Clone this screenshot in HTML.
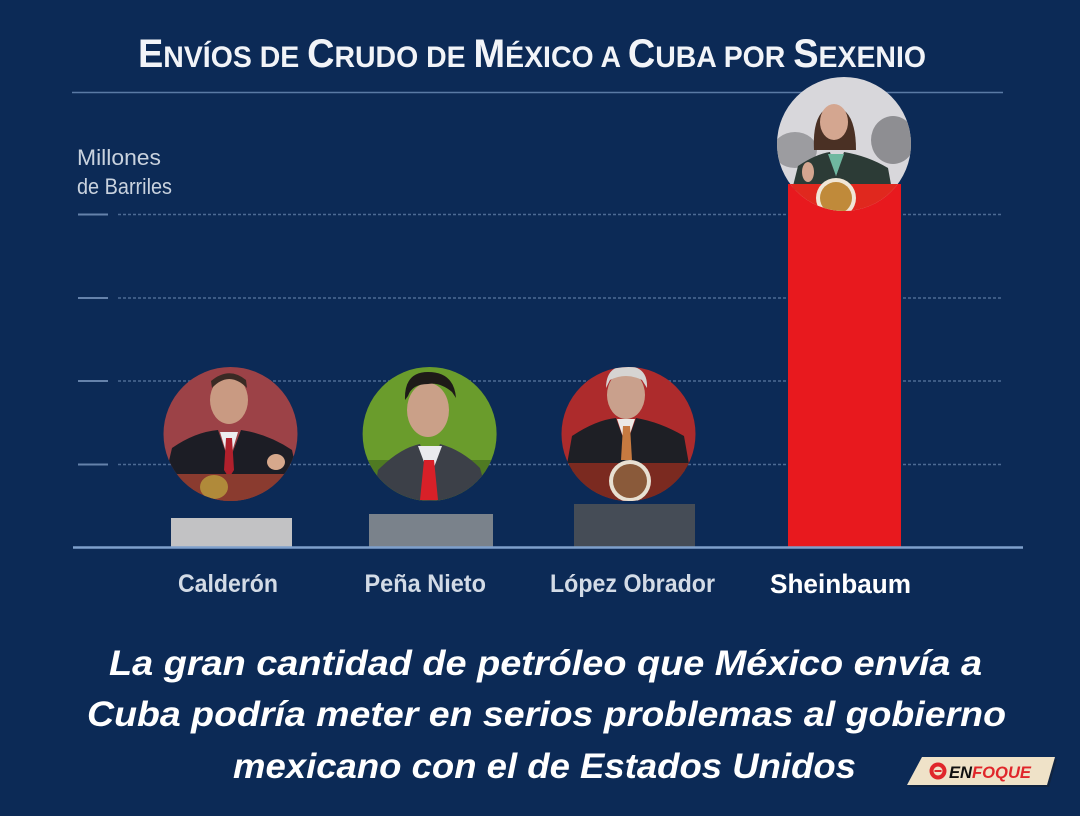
<!DOCTYPE html>
<html><head><meta charset="utf-8"><style>
html,body{margin:0;padding:0;background:#0c2a56;}
svg{display:block;}
</style></head><body>
<svg width="1080" height="816" viewBox="0 0 1080 816" xmlns="http://www.w3.org/2000/svg" font-family="'Liberation Sans', sans-serif">
<defs>
<clipPath id="c1"><circle cx="230.5" cy="434" r="67"/></clipPath>
<clipPath id="c2"><circle cx="429.6" cy="434" r="67"/></clipPath>
<clipPath id="c3"><circle cx="628.5" cy="434" r="67"/></clipPath>
<clipPath id="c4"><circle cx="844" cy="144" r="67"/></clipPath>
</defs>
<rect width="1080" height="816" fill="#0c2a56"/>

<!-- Title -->
<text x="138" y="67" textLength="788" lengthAdjust="spacingAndGlyphs" fill="#f2f4f8" font-weight="bold" font-size="40"><tspan>E</tspan><tspan font-size="30">NVÍOS DE </tspan><tspan>C</tspan><tspan font-size="30">RUDO DE </tspan><tspan>M</tspan><tspan font-size="30">ÉXICO A </tspan><tspan>C</tspan><tspan font-size="30">UBA POR </tspan><tspan>S</tspan><tspan font-size="30">EXENIO</tspan></text>
<line x1="72" y1="92.5" x2="1003" y2="92.5" stroke="#5a7aa5" stroke-width="1.5"/>

<!-- Axis label -->
<text x="77" y="165" textLength="84" lengthAdjust="spacingAndGlyphs" fill="#c9d2de" font-size="22">Millones</text>
<text x="77" y="194" textLength="95" lengthAdjust="spacingAndGlyphs" fill="#c9d2de" font-size="22">de Barriles</text>

<!-- Gridlines -->
<g stroke="#6582ab" stroke-width="2">
<line x1="78" y1="214.5" x2="108" y2="214.5"/>
<line x1="78" y1="298" x2="108" y2="298"/>
<line x1="78" y1="381" x2="108" y2="381"/>
<line x1="78" y1="464.5" x2="108" y2="464.5"/>
</g>
<g stroke="#4d6b94" stroke-width="1.6" stroke-dasharray="3 2">
<line x1="118" y1="214.5" x2="1003" y2="214.5"/>
<line x1="118" y1="298" x2="1003" y2="298"/>
<line x1="118" y1="381" x2="1003" y2="381"/>
<line x1="118" y1="464.5" x2="1003" y2="464.5"/>
</g>

<!-- Bars -->
<rect x="171" y="518" width="121" height="29" fill="#c2c2c4"/>
<rect x="369" y="514" width="124" height="33" fill="#7a828b"/>
<rect x="574" y="504" width="121" height="43" fill="#454c56"/>
<rect x="788" y="184" width="113" height="363" fill="#e8191e"/>

<!-- Baseline -->
<line x1="73" y1="547.5" x2="1023" y2="547.5" stroke="#7ea0cc" stroke-width="2.5"/>

<!-- Calderón photo -->
<g clip-path="url(#c1)">
<rect x="160" y="364" width="142" height="140" fill="#9c4247"/>
<ellipse cx="229" cy="400" rx="19" ry="24" fill="#c99a82"/>
<path d="M212 388 Q229 370 247 388 L246 380 Q229 366 211 381 Z" fill="#3a2a24"/>
<path d="M165 478 L172 448 Q195 432 218 430 L229 462 L241 430 Q268 434 292 450 L298 478 Z" fill="#1c1d25"/>
<path d="M220 432 L229 462 L238 432 Z" fill="#eceef0"/>
<path d="M226 438 L232 438 L234 470 L229 478 L224 470 Z" fill="#b0202c"/>
<ellipse cx="276" cy="462" rx="9" ry="8" fill="#d6a88c"/>
<rect x="160" y="474" width="142" height="30" fill="#8a3b2f"/>
<ellipse cx="214" cy="487" rx="14" ry="12" fill="#b08a3a"/>
</g>

<!-- Peña Nieto photo -->
<g clip-path="url(#c2)">
<rect x="360" y="364" width="142" height="140" fill="#6a9c2c"/>
<rect x="360" y="460" width="142" height="44" fill="#4f7a22"/>
<ellipse cx="428" cy="410" rx="21" ry="27" fill="#caa088"/>
<path d="M405 400 Q404 372 428 372 Q454 372 456 398 L452 392 Q440 382 428 384 Q412 384 408 396 Z" fill="#1e1a18"/>
<path d="M372 504 L378 470 Q400 448 420 444 L430 470 L440 444 Q462 450 480 468 L490 504 Z" fill="#3c4048"/>
<path d="M418 446 L430 478 L442 446 Z" fill="#eaeaee"/>
<path d="M424 460 L434 460 L438 500 L420 500 Z" fill="#d82028"/>
</g>

<!-- López Obrador photo -->
<g clip-path="url(#c3)">
<rect x="560" y="364" width="142" height="140" fill="#ad2b2c"/>
<ellipse cx="626" cy="395" rx="19" ry="24" fill="#c9a08c"/>
<path d="M606 388 Q606 366 626 366 Q648 366 647 388 L642 380 Q626 372 610 380 Z" fill="#d6d4d2"/>
<path d="M566 470 L572 436 Q596 420 616 418 L626 446 L636 418 Q660 422 684 436 L690 470 Z" fill="#1e1f25"/>
<path d="M617 419 L626 446 L635 419 Z" fill="#eceae6"/>
<path d="M623 426 L630 426 L632 460 L621 460 Z" fill="#c77a40"/>
<rect x="560" y="463" width="142" height="41" fill="#7b2a20"/>
<circle cx="630" cy="481" r="21" fill="#e8e0d2"/>
<circle cx="630" cy="481" r="17" fill="#8a5a3a"/>
</g>

<!-- Sheinbaum photo -->
<g clip-path="url(#c4)">
<rect x="776" y="76" width="136" height="136" fill="#d8d7db"/>
<ellipse cx="795" cy="150" rx="22" ry="18" fill="#9c9ca0"/>
<ellipse cx="893" cy="140" rx="22" ry="24" fill="#8e8e92"/>
<path d="M814 150 Q812 110 833 106 Q856 108 856 150 Z" fill="#4a3024"/>
<ellipse cx="834" cy="122" rx="14" ry="18" fill="#d4a690"/>
<path d="M792 190 L798 166 Q816 154 830 152 L836 176 L844 152 Q868 156 888 168 L892 190 Z" fill="#2c3b36"/>
<path d="M828 154 L836 176 L844 154 Z" fill="#6fb8a0"/>
<ellipse cx="808" cy="172" rx="6" ry="10" fill="#d4a690"/>
<rect x="776" y="184" width="136" height="30" fill="#e0281e"/>
<circle cx="836" cy="198" r="20" fill="#f0e6d6"/>
<circle cx="836" cy="198" r="16" fill="#c08a3a"/>
</g>

<!-- Category labels -->
<text x="178" y="592" textLength="100" lengthAdjust="spacingAndGlyphs" fill="#d3dbe6" font-weight="bold" font-size="25">Calderón</text>
<text x="364.5" y="592" textLength="121.5" lengthAdjust="spacingAndGlyphs" fill="#d3dbe6" font-weight="bold" font-size="25">Peña Nieto</text>
<text x="550" y="592" textLength="165" lengthAdjust="spacingAndGlyphs" fill="#d3dbe6" font-weight="bold" font-size="25">López Obrador</text>
<text x="770" y="593" textLength="141" lengthAdjust="spacingAndGlyphs" fill="#ffffff" font-weight="bold" font-size="27">Sheinbaum</text>

<!-- Caption -->
<g fill="#ffffff" font-weight="bold" font-style="italic" font-size="35">
<text x="109" y="675" textLength="873" lengthAdjust="spacingAndGlyphs">La gran cantidad de petróleo que México envía a</text>
<text x="87" y="726" textLength="919" lengthAdjust="spacingAndGlyphs">Cuba podría meter en serios problemas al gobierno</text>
<text x="233" y="778" textLength="623" lengthAdjust="spacingAndGlyphs">mexicano con el de Estados Unidos</text>
</g>

<!-- Logo -->
<polygon points="924,759 1057,759 1049,787 909,787" fill="#1a1a1a" opacity="0.35"/>
<polygon points="922,757 1055,757 1047,785 907,785" fill="#efe2c8"/>
<circle cx="938" cy="771" r="8.5" fill="#e0262a"/>
<circle cx="938" cy="771" r="4.5" fill="#efe2c8"/>
<rect x="934.5" y="770" width="7" height="2" fill="#e0262a"/>
<text x="949" y="778" textLength="82" lengthAdjust="spacingAndGlyphs" font-weight="bold" font-style="italic" font-size="17"><tspan fill="#111111">EN</tspan><tspan fill="#e0262a">FOQUE</tspan></text>
</svg>
</body></html>
